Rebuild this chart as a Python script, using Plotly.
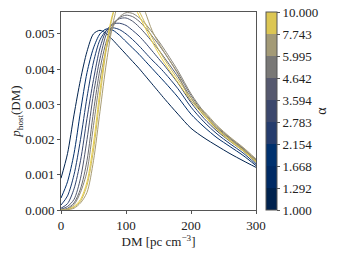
import plotly.graph_objects as go

dm = [0, 10, 20, 30, 40, 50, 60, 70, 80, 90, 100, 110, 120, 130, 140, 150, 160, 180, 200, 220, 240, 260, 280, 300]

p_a1 = [0.0009, 0.0016, 0.0027, 0.0037, 0.0045, 0.0050, 0.0051, 0.0050, 0.00482, 0.00462, 0.00442, 0.00422, 0.00402, 0.0038, 0.00358, 0.00336, 0.00314, 0.00272, 0.00232, 0.00205, 0.00182, 0.0016, 0.0014, 0.00121]
p_a2 = [0.00034, 0.0008, 0.0016, 0.0028, 0.0039, 0.0046, 0.0050, 0.00514, 0.0051, 0.00496, 0.00478, 0.0046, 0.00442, 0.00422, 0.00402, 0.00382, 0.00362, 0.0032, 0.00272, 0.00236, 0.00205, 0.0018, 0.00155, 0.00126]
p_a3 = [0.00014, 0.0004, 0.0010, 0.0020, 0.0032, 0.0042, 0.00483, 0.0051, 0.00517, 0.00512, 0.005, 0.00484, 0.00466, 0.00446, 0.00426, 0.00408, 0.00388, 0.00344, 0.00292, 0.0025, 0.00216, 0.00188, 0.00162, 0.0013]
p_a4 = [0.00005, 0.00018, 0.0006, 0.0014, 0.0026, 0.0037, 0.0046, 0.0051, 0.00528, 0.0053, 0.00524, 0.0051, 0.00494, 0.00474, 0.00452, 0.0043, 0.00408, 0.0036, 0.00305, 0.0026, 0.00224, 0.00195, 0.00168, 0.00135]
p_a5 = [0.00002, 0.0001, 0.0003, 0.0009, 0.0020, 0.0033, 0.0043, 0.0050, 0.0053, 0.00543, 0.00545, 0.00536, 0.0052, 0.005, 0.00478, 0.00455, 0.0043, 0.00378, 0.00318, 0.00268, 0.0023, 0.002, 0.00172, 0.00138]
p_a6 = [0.0, 0.00005, 0.0002, 0.0006, 0.0014, 0.0028, 0.0040, 0.0048, 0.00525, 0.00546, 0.00553, 0.00549, 0.00536, 0.00517, 0.00494, 0.0047, 0.00444, 0.00388, 0.00325, 0.00274, 0.00234, 0.00203, 0.00174, 0.0014]
p_a7 = [0.0, 0.00003, 0.00015, 0.0005, 0.0011, 0.0024, 0.0037, 0.0046, 0.0052, 0.00548, 0.0056, 0.00558, 0.00546, 0.00528, 0.00505, 0.0048, 0.00453, 0.00395, 0.0033, 0.00278, 0.00237, 0.00205, 0.00176, 0.00142]
p_a8 = [0.0, 0.00002, 0.0001, 0.0003, 0.0008, 0.0019, 0.0034, 0.0047, 0.0056, 0.006, 0.00605, 0.00585, 0.00552, 0.00515, 0.00478, 0.00445, 0.00415, 0.00362, 0.0031, 0.00268, 0.00228, 0.00196, 0.00168, 0.00136]
p_a9 = [0.0, 0.00001, 0.00008, 0.00025, 0.0007, 0.0017, 0.0032, 0.0046, 0.00555, 0.00605, 0.00615, 0.00598, 0.00565, 0.00528, 0.0049, 0.00456, 0.00425, 0.0037, 0.00318, 0.00273, 0.00232, 0.002, 0.00171, 0.00139]
p_a10 = [0.0, 0.00001, 0.00005, 0.0002, 0.0005, 0.0014, 0.0028, 0.0042, 0.0053, 0.006, 0.0064, 0.00645, 0.0061, 0.0056, 0.0051, 0.00475, 0.00445, 0.00385, 0.0031, 0.0028, 0.0024, 0.00207, 0.00178, 0.00145]

curves = [p_a1, p_a2, p_a3, p_a4, p_a5, p_a6, p_a7, p_a8, p_a9, p_a10]
curve_colors = ["#00224e", "#002d69", "#17386e", "#344570", "#4f566e",
                "#6a6a70", "#888477", "#ecd245", "#cfbb5a", "#a89c74"]

alpha_labels = ["1.000", "1.292", "1.668", "2.154", "2.783", "3.594", "4.642", "5.995", "7.743", "10.000"]
bin_colors = ["#00224e", "#002a64", "#00316e", "#253c6d", "#3b476c",
              "#56596e", "#797876", "#a39a76", "#dcc653"]

FONT = "Liberation Serif"

fig = go.Figure()
for ys, c in zip(curves, curve_colors):
    fig.add_trace(go.Scatter(x=dm, y=ys, mode="lines", line=dict(color=c, width=1, shape="spline", smoothing=0.8),
                             showlegend=False, hoverinfo="skip"))

nb = len(bin_colors)
cs = []
for i, c in enumerate(bin_colors):
    cs.append([i / nb, c])
    cs.append([(i + 1) / nb, c])

fig.add_trace(go.Scatter(
    x=[None], y=[None], mode="markers", showlegend=False,
    marker=dict(color=[0, nb], cmin=0, cmax=nb, colorscale=cs, showscale=True,
                colorbar=dict(
                    x=1.051, xanchor="left", xref="paper", y=0.5, yanchor="middle",
                    len=1, lenmode="fraction", thickness=11, xpad=0, ypad=0,
                    outlinewidth=1, outlinecolor="#555555",
                    tickmode="array", tickvals=list(range(nb + 1)), ticktext=alpha_labels,
                    ticks="outside", ticklen=3, tickcolor="#555555",
                    ticklabeloverflow="allow",
                    tickfont=dict(family=FONT, size=13, color="#222222"),
                    title=dict(text="α", side="right", font=dict(family=FONT, size=14, color="#222222")),
                )),
))

fig.update_layout(
    width=332, height=247,
    margin=dict(l=53, r=84, t=4, b=45, autoexpand=False),
    plot_bgcolor="white", paper_bgcolor="white",
    font=dict(family=FONT, size=13, color="#222222"),
    xaxis=dict(range=[0, 300], tickvals=[0, 100, 200, 300], showgrid=False, zeroline=False,
               automargin=False,
               showline=True, linecolor="#555555", linewidth=1, mirror=True,
               ticks="outside", ticklen=3, tickcolor="#555555",
               title=dict(text="DM [pc cm<sup>−3</sup>]", standoff=2, font=dict(size=13))),
    yaxis=dict(range=[0, 0.00562], tickvals=[0, 0.001, 0.002, 0.003, 0.004, 0.005], tickformat=".3f",
               showgrid=False, zeroline=False, automargin=False,
               showline=True, linecolor="#555555", linewidth=1, mirror=True,
               ticks="outside", ticklen=3, tickcolor="#555555",
               title=dict(text="<i>p</i><sub>host</sub>(DM)", standoff=0, font=dict(size=13))),
)

fig.write_html("out.html")
